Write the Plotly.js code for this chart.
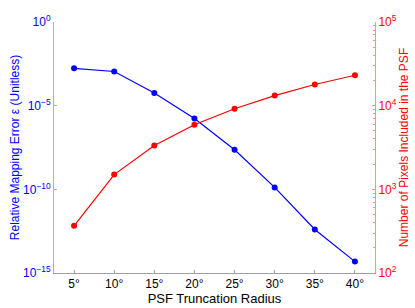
<!DOCTYPE html>
<html><head><meta charset="utf-8">
<script src="https://cdn.plot.ly/plotly-3.0.1.min.js"></script>
<style>html,body{margin:0;padding:0;background:#fff}#c{width:415px;height:308px}</style>
</head><body><div id="c"></div>
<script>
const radii = [5, 10, 15, 20, 25, 30, 35, 40];
const radiusLabels = ['5°','10°','15°','20°','25°','30°','35°','40°'];
const mappingError = [1.7e-3, 1.1e-3, 5.7e-5, 1.7e-6, 2.3e-8, 1.3e-10, 4e-13, 4.8e-15];
const pixelCount = [366, 1500, 3340, 5920, 9200, 13200, 17900, 23100];
const leftTickVals = [1e-15, 1e-10, 1e-5, 1];
const leftTickText = ['10<sup>−15</sup>','10<sup>−10</sup>','10<sup>−5</sup>','10<sup>0</sup>'];
const rightTickVals = [100, 1000, 10000, 100000];
const rightTickText = ['10<sup>2</sup>','10<sup>3</sup>','10<sup>4</sup>','10<sup>5</sup>'];

const font = {family: 'Liberation Sans, Arial, sans-serif', size: 12};
const traces = [
  {x: radii, y: mappingError, type: 'scatter', mode: 'lines+markers', yaxis: 'y',
   line: {color: '#0000ff', width: 1.2}, marker: {color: '#0000ff', size: 6}},
  {x: radii, y: pixelCount, type: 'scatter', mode: 'lines+markers', yaxis: 'y2',
   line: {color: '#ff0000', width: 1.2}, marker: {color: '#ff0000', size: 6}}
];
const layout = {
  width: 415, height: 308, showlegend: false, font: font,
  paper_bgcolor: '#fff', plot_bgcolor: '#fff',
  margin: {l: 54, r: 40, t: 22, b: 35},
  xaxis: {range: [2.5, 42.5], tickvals: radii, ticktext: radiusLabels,
    showgrid: false, zeroline: false, showline: true, linecolor: '#a0a0a0', linewidth: 1,
    ticks: 'inside', ticklen: 3, tickcolor: '#a0a0a0', tickfont: {color: '#000', size: 12},
    title: {text: 'PSF Truncation Radius', font: {color: '#000', size: 13}, standoff: 0}},
  yaxis: {type: 'log', range: [-15, 0], tickvals: leftTickVals, ticktext: leftTickText,
    showgrid: false, zeroline: false, showline: true, linecolor: '#a8a8ff', linewidth: 1,
    ticks: 'inside', ticklen: 3, tickcolor: '#a8a8ff', tickfont: {color: '#0000ff', size: 12},
    title: {text: 'Relative Mapping Error ε (Unitless)', font: {color: '#0000ff', size: 12}, standoff: 0}},
  yaxis2: {type: 'log', range: [2, 5], overlaying: 'y', side: 'right', tickvals: rightTickVals, ticktext: rightTickText,
    showgrid: false, zeroline: false, showline: true, linecolor: '#ff9090', linewidth: 1,
    ticks: 'inside', ticklen: 3, tickcolor: '#ff9090', tickfont: {color: '#ff0000', size: 12},
    minor: {ticks: 'inside', ticklen: 2, tickcolor: '#ff9090', tickvals: [200,300,400,500,600,700,800,900,2000,3000,4000,5000,6000,7000,8000,9000,20000,30000,40000,50000,60000,70000,80000,90000]},
    title: {text: 'Number of Pixels Included in the PSF', font: {color: '#ff0000', size: 12}, standoff: 3}}
};
Plotly.newPlot('c', traces, layout, {displayModeBar: false, staticPlot: true});
</script></body></html>
